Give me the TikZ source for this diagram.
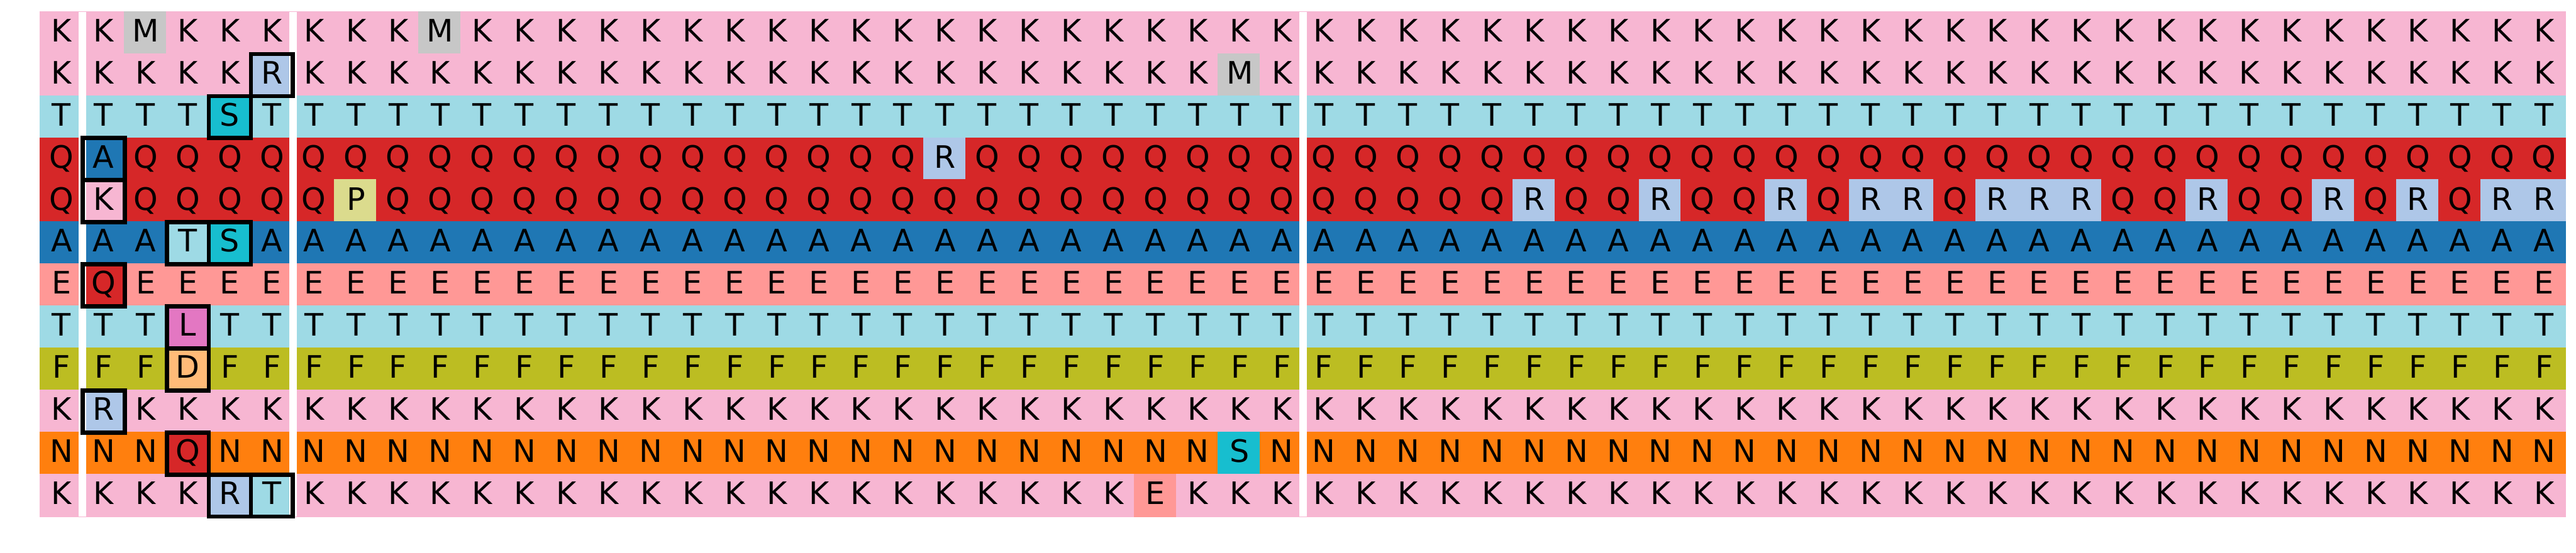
\documentclass[tikz,border=0pt]{standalone}
\usepackage{fontspec}
\newfontfamily\cellfont{DejaVu Sans}
\usepackage{tikz}

\definecolor{colK}{HTML}{F7B6D2}
\definecolor{colT}{HTML}{9EDAE5}
\definecolor{colS}{HTML}{17BECF}
\definecolor{colQ}{HTML}{D62728}
\definecolor{colA}{HTML}{1F77B4}
\definecolor{colE}{HTML}{FF9896}
\definecolor{colF}{HTML}{BCBD22}
\definecolor{colN}{HTML}{FF7F0E}
\definecolor{colR}{HTML}{AEC7E8}
\definecolor{colM}{HTML}{C7C7C7}
\definecolor{colP}{HTML}{DBDB8D}
\definecolor{colL}{HTML}{E377C2}
\definecolor{colD}{HTML}{FFBB78}

\tikzset{
  cell/.style={minimum size=1cm, inner sep=0pt, outer sep=0pt, line width=0.04cm,
    text height=0.5cm, text depth=0.086cm, font=\cellfont\fontsize{20.9pt}{25pt}\selectfont},
  separatore/.style={white, line width=0.18cm},
  riquadro/.style={black, line width=0.103cm}
}

\begin{document}
\begin{tikzpicture}
    \useasboundingbox (-0.963,0.286) rectangle (60.258,-12.861); % margini
    % residui diversi dal consenso
    \foreach \r/\c/\l in {1/2/M, 1/9/M, 2/5/R, 2/28/M, 3/4/S, 4/1/A, 4/21/R, 5/1/K, 5/7/P,
        5/35/R, 5/38/R, 5/41/R, 5/43/R, 5/44/R, 5/46/R, 5/47/R, 5/48/R, 5/51/R, 5/54/R,
        5/56/R, 5/58/R, 5/59/R, 6/3/T, 6/4/S, 7/1/Q, 8/3/L, 9/3/D, 10/1/R, 11/3/Q, 11/28/S,
        12/4/R, 12/5/T, 12/26/E}
      {\expandafter\xdef\csname res-\r-\c\endcsname{\l}}
    % griglia delle sequenze
    \foreach \r/\base in {1/K, 2/K, 3/T, 4/Q, 5/Q, 6/A, 7/E, 8/T, 9/F, 10/K, 11/N, 12/K}
      \foreach \c in {0,...,59} {
        \ifcsname res-\r-\c\endcsname
          \xdef\cellletter{\csname res-\r-\c\endcsname}
        \else
          \xdef\cellletter{\base}
        \fi
        \node[cell, fill=col\cellletter, draw=col\cellletter] (c-\r-\c) at (\c+0.5, 0.5-\r) {\cellletter};
      }
    % separatori bianchi
    \foreach \c in {0,5,29}
      \draw[separatore] (c-1-\c.north east) -- (c-12-\c.south east);
    % riquadri neri
    \foreach \r/\c in {2/5, 3/4, 4/1, 5/1, 6/3, 6/4, 7/1, 8/3, 9/3, 10/1, 11/3, 12/4, 12/5}
      \draw[riquadro] (c-\r-\c.south west) rectangle (c-\r-\c.north east);
\end{tikzpicture}
\end{document}
